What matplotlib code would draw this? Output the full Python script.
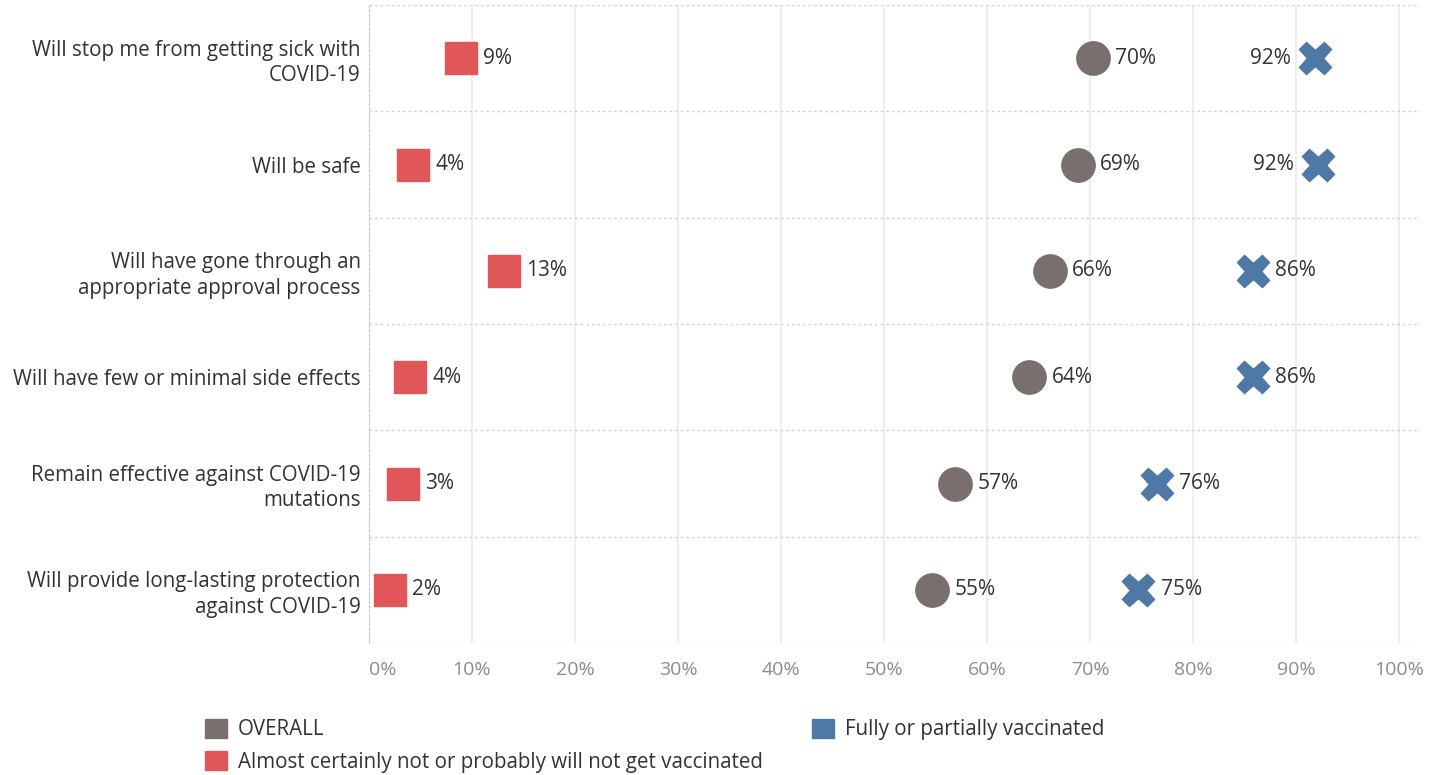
import numpy as np
import matplotlib.pyplot as plt
from matplotlib.patches import Patch

plt.rcParams['font.family'] = ['Open Sans', 'DejaVu Sans']

statements = ["Will stop me from getting sick with\nCOVID-19",
              "Will be safe",
              "Will have gone through an\nappropriate approval process",
              "Will have few or minimal side effects",
              "Remain effective against COVID-19\nmutations",
              "Will provide long-lasting protection\nagainst COVID-19"]
overall = [70.3, 68.8, 66.1, 64.1, 56.9, 54.7]
unvaccinated = [8.9, 4.3, 13.1, 4.0, 3.3, 2.0]
vaccinated = [91.8, 92.1, 85.8, 85.8, 76.5, 74.7]
overall_lbl = [70, 69, 66, 64, 57, 55]
unvacc_lbl = [9, 4, 13, 4, 3, 2]
vacc_lbl = [92, 92, 86, 86, 76, 75]

c_over = "#79706e"
c_unvac = "#e15759"
c_vac = "#4e79a7"
txt = "#333333"

fig = plt.figure(figsize=(14.34, 7.75), dpi=100)
ax = fig.add_axes([0.2573, 0.1703, 0.7327, 0.8232])

y = np.arange(len(statements))
ax.plot(unvaccinated, y, "s", ms=23, color=c_unvac, ls="none", zorder=3)
ax.plot(overall, y, "o", ms=24, color=c_over, ls="none", zorder=3)
ax.plot(vaccinated, y, "X", ms=25, color=c_vac, mec="none", ls="none", zorder=3)

for i in range(len(y)):
    ax.annotate(f"{unvacc_lbl[i]}%", (unvaccinated[i], y[i]), xytext=(16, 0),
                textcoords="offset points", va="center", ha="left", fontsize=15, color=txt)
    ax.annotate(f"{overall_lbl[i]}%", (overall[i], y[i]), xytext=(16, 0),
                textcoords="offset points", va="center", ha="left", fontsize=15, color=txt)
    if vacc_lbl[i] > 90:
        ax.annotate(f"{vacc_lbl[i]}%", (vaccinated[i], y[i]), xytext=(-17, 0),
                    textcoords="offset points", va="center", ha="right", fontsize=15, color=txt)
    else:
        ax.annotate(f"{vacc_lbl[i]}%", (vaccinated[i], y[i]), xytext=(16, 0),
                    textcoords="offset points", va="center", ha="left", fontsize=15, color=txt)

ax.set_xlim(0, 102)
ax.set_ylim(len(y) - 0.5, -0.5)
ax.set_xticks(np.arange(0, 101, 10))
ax.set_xticklabels([f"{v}%" for v in range(0, 101, 10)])
ax.set_yticks(y)
ax.set_yticklabels(statements, fontsize=14.8, color=txt, linespacing=1.27)
ax.tick_params(axis="y", length=0, pad=6)
ax.tick_params(axis="x", length=0, pad=13, labelsize=14, labelcolor="#8c8c8c")
ax.get_xticklabels()[0].set_horizontalalignment("left")

ax.grid(axis="x", color="#ebebeb", lw=1.2)
for b in np.arange(-0.5, len(y), 1):
    ax.axhline(b, color="#d4d4d4", lw=1, ls=(0, (2, 2)), zorder=1)
for s in ["top", "right", "bottom"]:
    ax.spines[s].set_visible(False)
ax.spines["left"].set_color("#c8c8c8")
ax.spines["left"].set_linestyle((0, (2, 2)))
ax.set_axisbelow(True)

handles = [Patch(color=c_over, label="OVERALL"),
           Patch(color=c_unvac, label="Almost certainly not or probably will not get vaccinated"),
           Patch(color=c_vac, label="Fully or partially vaccinated")]
fig.legend(handles=handles, ncol=2, loc="upper left", bbox_to_anchor=(0.1374, 0.0835),
           frameon=False, fontsize=14.8, labelcolor=txt, handlelength=1.05, handleheight=1.05,
           handletextpad=0.55, columnspacing=2.4, labelspacing=0.55, borderaxespad=0)

fig.savefig("out.png", dpi=100)
